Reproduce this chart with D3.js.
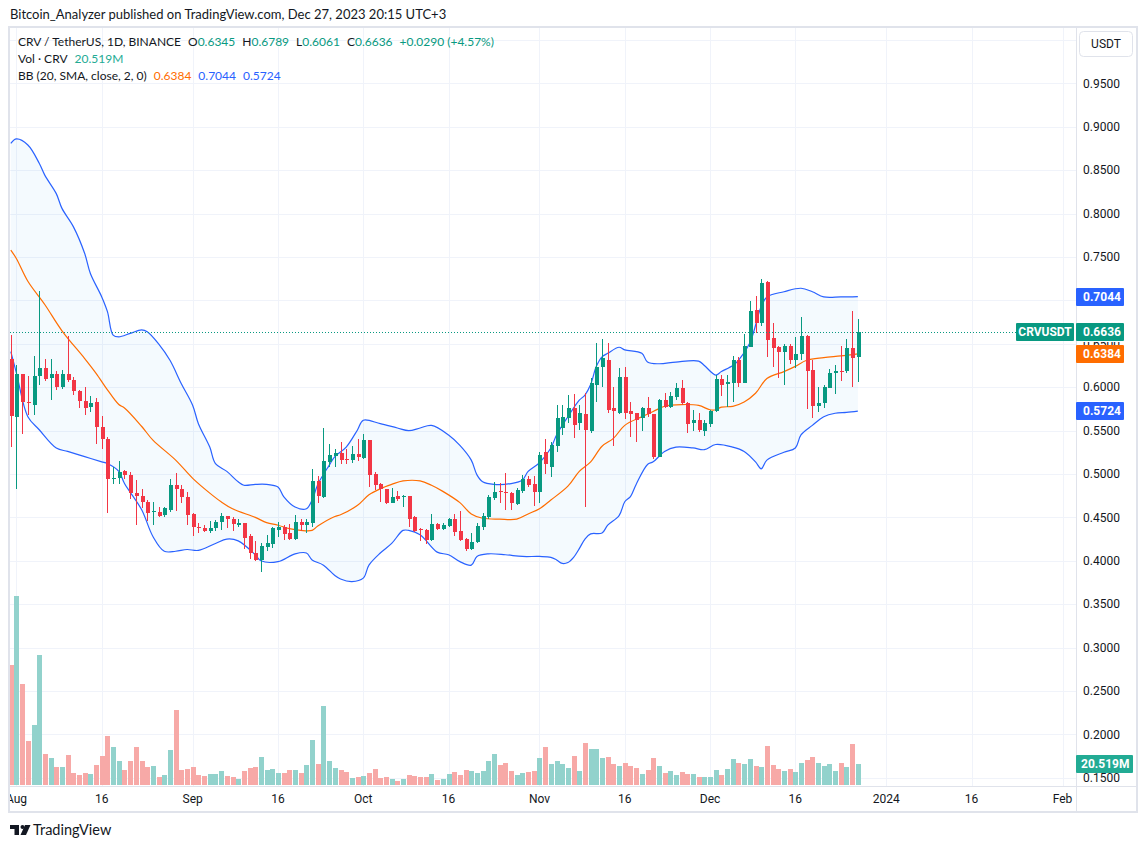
<!DOCTYPE html>
<html>
<head>
<meta charset="utf-8">
<script src="https://cdn.jsdelivr.net/npm/d3@7"></script>
<style>
  html, body { margin: 0; padding: 0; background: #fff; }
  svg { display: block; font-family: Lato, "Noto Sans", sans-serif; }
  .axis text { font-family: Roboto, "Noto Sans", sans-serif; }
</style>
</head>
<body>
<svg id="chart" width="1147" height="848"></svg>
<script>
// CRV / TetherUS daily candles, Jul 31 2023 .. Dec 27 2023
const firstDay = "2023-07-31";

const opens = [
  0.6325,0.5660,0.6148,0.5833,0.5795,0.6129,0.6225,0.6110,0.6152,0.6000,
  0.6152,0.6083,0.5956,0.5845,0.5776,0.5829,0.5545,0.5403,0.4942,0.4958,
  0.5030,0.4988,0.4785,0.4747,0.4681,0.4562,0.4559,0.4528,0.4585,0.4873,
  0.4827,0.4739,0.4539,0.4390,0.4382,0.4347,0.4374,0.4443,0.4520,0.4481,
  0.4412,0.4439,0.4286,0.4086,0.4009,0.4163,0.4194,0.4355,0.4393,0.4316,
  0.4251,0.4443,0.4412,0.4439,0.4919,0.4739,0.5143,0.5207,0.5245,0.5172,
  0.5161,0.5230,0.5180,0.5391,0.4999,0.4884,0.4827,0.4670,0.4746,0.4731,
  0.4746,0.4500,0.4366,0.4355,0.4239,0.4424,0.4366,0.4401,0.4481,0.4343,
  0.4251,0.4136,0.4212,0.4393,0.4508,0.4720,0.4804,0.4796,0.4785,0.4654,
  0.4808,0.4942,0.4884,0.4796,0.5250,0.5084,0.5322,0.5526,0.5641,0.5756,
  0.5584,0.5691,0.5499,0.6025,0.6236,0.6313,0.5756,0.5699,0.6121,0.5729,
  0.5699,0.5641,0.5756,0.5691,0.5200,0.5852,0.5768,0.5883,0.5987,0.5814,
  0.5591,0.5622,0.5499,0.5580,0.5730,0.6090,0.6035,0.6050,0.6313,0.6044,
  0.6467,0.6889,0.6736,0.7216,0.6563,0.6467,0.6409,0.6474,0.6313,0.6378,
  0.6590,0.6198,0.5783,0.5822,0.5987,0.6160,0.6190,0.6190,0.6447,0.6345
];
const highs = [
  0.6600,0.6256,0.6150,0.6130,0.6360,0.7108,0.6325,0.6325,0.6190,0.6198,
  0.6590,0.6120,0.5970,0.6006,0.5900,0.5875,0.5668,0.5432,0.5085,0.5150,
  0.5050,0.5019,0.4931,0.4827,0.4700,0.4674,0.4616,0.4624,0.4942,0.5008,
  0.4873,0.4789,0.4547,0.4439,0.4412,0.4458,0.4470,0.4547,0.4520,0.4508,
  0.4478,0.4439,0.4309,0.4228,0.4201,0.4297,0.4393,0.4451,0.4412,0.4424,
  0.4528,0.4478,0.4478,0.5058,0.4977,0.5534,0.5342,0.5284,0.5365,0.5284,
  0.5322,0.5399,0.5461,0.5395,0.5026,0.4900,0.4827,0.4835,0.4804,0.4758,
  0.4746,0.4516,0.4374,0.4363,0.4539,0.4431,0.4439,0.4489,0.4539,0.4573,
  0.4259,0.4316,0.4431,0.4547,0.4758,0.4911,0.4900,0.5015,0.4796,0.4835,
  0.4988,0.4977,0.4977,0.5257,0.5400,0.5372,0.5795,0.5795,0.5910,0.5921,
  0.5795,0.5929,0.6102,0.6513,0.6555,0.6505,0.6006,0.6217,0.6236,0.5833,
  0.5706,0.5776,0.5883,0.5691,0.5860,0.5937,0.5948,0.6044,0.6083,0.5833,
  0.5737,0.5699,0.5622,0.5737,0.6140,0.6146,0.6140,0.6365,0.6344,0.6613,
  0.6993,0.7050,0.7242,0.7223,0.6735,0.6475,0.6497,0.6497,0.6582,0.6805,
  0.6601,0.6313,0.6006,0.6025,0.6206,0.6256,0.6474,0.6551,0.6881,0.6789
];
const lows = [
  0.5315,0.4827,0.5460,0.5680,0.5680,0.6025,0.6075,0.5853,0.5968,0.5979,
  0.6064,0.5910,0.5764,0.5684,0.5718,0.5346,0.5284,0.4555,0.4885,0.4890,
  0.4940,0.4708,0.4412,0.4605,0.4462,0.4412,0.4501,0.4508,0.4558,0.4574,
  0.4670,0.4412,0.4286,0.4324,0.4332,0.4316,0.4347,0.4355,0.4374,0.4347,
  0.4393,0.4132,0.4017,0.4001,0.3871,0.4117,0.4151,0.4278,0.4240,0.4240,
  0.4240,0.4347,0.4324,0.4393,0.4662,0.4720,0.5085,0.5085,0.5115,0.5111,
  0.5130,0.5153,0.5169,0.4854,0.4815,0.4681,0.4654,0.4662,0.4693,0.4623,
  0.4385,0.4335,0.4232,0.4189,0.4232,0.4355,0.4355,0.4385,0.4285,0.4232,
  0.4117,0.4124,0.4201,0.4355,0.4477,0.4700,0.4662,0.4585,0.4585,0.4643,
  0.4785,0.4846,0.4635,0.4670,0.5000,0.4969,0.5257,0.5449,0.5584,0.5411,
  0.5507,0.4624,0.5476,0.5833,0.6006,0.5706,0.5322,0.5691,0.5630,0.5430,
  0.5372,0.5495,0.5660,0.5169,0.5200,0.5756,0.5756,0.5852,0.5795,0.5468,
  0.5495,0.5488,0.5443,0.5545,0.5715,0.5900,0.5775,0.5833,0.5999,0.6044,
  0.6467,0.6628,0.6705,0.6352,0.6236,0.6102,0.6025,0.6263,0.6217,0.6313,
  0.5745,0.5649,0.5718,0.5756,0.5987,0.5921,0.6075,0.6160,0.6006,0.6061
];
const closes = [
  0.5672,0.6148,0.5833,0.5820,0.6129,0.6225,0.6100,0.6152,0.6000,0.6152,
  0.6083,0.5956,0.5845,0.5764,0.5814,0.5545,0.5403,0.4942,0.4958,0.5027,
  0.4988,0.4785,0.4747,0.4681,0.4547,0.4574,0.4516,0.4605,0.4873,0.4827,
  0.4739,0.4528,0.4385,0.4382,0.4347,0.4382,0.4451,0.4520,0.4478,0.4420,
  0.4431,0.4267,0.4086,0.4009,0.4174,0.4201,0.4374,0.4393,0.4309,0.4251,
  0.4443,0.4412,0.4443,0.4919,0.4747,0.5150,0.5219,0.5245,0.5161,0.5165,
  0.5230,0.5199,0.5391,0.4988,0.4873,0.4823,0.4662,0.4731,0.4708,0.4746,
  0.4481,0.4347,0.4355,0.4239,0.4424,0.4366,0.4412,0.4477,0.4335,0.4239,
  0.4136,0.4212,0.4404,0.4516,0.4731,0.4796,0.4792,0.4777,0.4662,0.4815,
  0.4942,0.4873,0.4796,0.5218,0.5120,0.5334,0.5641,0.5660,0.5756,0.5564,
  0.5699,0.5507,0.6044,0.6236,0.6332,0.5737,0.5726,0.6121,0.5699,0.5691,
  0.5622,0.5756,0.5687,0.5200,0.5852,0.5768,0.5898,0.5987,0.5814,0.5576,
  0.5622,0.5507,0.5591,0.5728,0.6096,0.6025,0.6060,0.6313,0.6044,0.6475,
  0.6878,0.6736,0.7196,0.6544,0.6455,0.6409,0.6474,0.6313,0.6378,0.6590,
  0.6190,0.5783,0.5822,0.6002,0.6167,0.6186,0.6183,0.6447,0.6340,0.6636
];
// volume in millions of CRV
const volumes = [
  117,185,99,43,59,127,30,26,17.6,17.6,
  29,11.7,9.8,11.7,10.7,19.5,28.3,47.9,37.1,23.5,
  14.7,23.5,37.1,23.5,17.6,18.6,7.8,9.8,34.2,73.3,
  14.7,15.6,17.6,9.8,8.8,10.7,10.7,13.7,8.8,7.8,
  5.9,13.7,16.6,17.6,27.4,14.7,15.6,11.7,11.7,14.7,
  14.7,11.7,19.5,44,20.5,77.2,23.5,16.6,14.7,12.7,
  6.8,7.8,8.8,11.7,15.6,6.8,7.8,5.9,3.9,5.9,
  9.8,8.8,7.8,7.8,10.7,4.9,5.9,10.7,12.7,9.8,
  14.7,13.7,11.7,13.7,23.5,30.3,19.5,21.5,13.7,9.8,
  11.7,12.7,13.7,26.4,37.1,20.5,23.5,20.5,16.6,28.3,
  13.7,41.0,35.2,35.2,26.4,27.4,20.5,18.6,21.5,18.6,
  16.6,10.7,14.7,26.4,18.6,11.7,13.7,9.8,12.7,10.7,
  10.7,7.8,7.8,7.8,14.7,9.8,15.6,25.4,21.5,20.5,
  25.4,18.6,17.6,38.1,19.5,15.6,13.7,15.6,12.7,21.5,
  24.4,27.4,21.5,18.6,20.5,13.7,21.5,17.6,40.1,20.519
];

// Bollinger bands: [day offset from firstDay, value]
const bbUpper = [
  [0,0.881],[1,0.886],[3,0.879],[5,0.858],[6,0.844],[8,0.823],[9,0.806],[11,0.785],
  [13,0.754],[14,0.731],[16,0.704],[17,0.687],[18,0.660],[19,0.658],[21,0.662],[23,0.666],
  [24,0.664],[26,0.650],[28,0.631],[30,0.604],[32,0.579],[33,0.558],[35,0.531],[36,0.512],
  [38,0.503],[40,0.491],[41,0.487],[43,0.488],[45,0.488],[47,0.485],[48,0.474],[50,0.462],
  [52,0.460],[53,0.470],[54,0.488],[56,0.510],[57,0.520],[59,0.531],[61,0.551],[62,0.562],
  [65,0.558],[68,0.553],[70,0.550],[72,0.553],[74,0.556],[77,0.545],[79,0.533],[81,0.516],
  [82,0.499],[83,0.491],[85,0.488],[88,0.489],[90,0.493],[91,0.503],[93,0.513],[95,0.530],
  [96,0.545],[98,0.566],[100,0.585],[101,0.591],[102,0.603],[103,0.624],[104,0.635],[105,0.639],
  [107,0.646],[108,0.643],[111,0.639],[112,0.629],[114,0.627],[117,0.629],[121,0.630],[122,0.625],
  [124,0.614],[125,0.618],[127,0.625],[128,0.631],[130,0.651],[132,0.693],[133,0.704],[136,0.710],
  [139,0.714],[141,0.710],[143,0.704],[146,0.704],[149,0.7044]
];
const bbBasis = [
  [0,0.758],[1,0.748],[3,0.722],[6,0.695],[9,0.665],[13,0.633],[15,0.616],[17,0.597],
  [19,0.580],[20,0.576],[23,0.555],[25,0.539],[29,0.516],[32,0.495],[35,0.478],[37,0.468],
  [39,0.460],[43,0.450],[45,0.444],[47,0.441],[49,0.437],[51,0.435],[53,0.435],[54,0.440],
  [57,0.451],[58,0.453],[61,0.464],[63,0.476],[65,0.483],[67,0.488],[69,0.492],[72,0.492],
  [74,0.487],[76,0.480],[79,0.467],[81,0.454],[83,0.449],[86,0.448],[89,0.448],[91,0.454],
  [93,0.460],[95,0.470],[98,0.486],[100,0.503],[102,0.514],[104,0.532],[106,0.541],[108,0.556],
  [111,0.566],[113,0.572],[115,0.578],[118,0.580],[121,0.579],[123,0.574],[124,0.574],[125,0.577],
  [127,0.578],[129,0.583],[131,0.593],[133,0.610],[136,0.618],[138,0.624],[140,0.631],[143,0.634],
  [146,0.636],[149,0.6384]
];
const bbLower = [
  [0,0.641],[1,0.616],[3,0.566],[5,0.551],[8,0.530],[10,0.526],[13,0.520],[16,0.514],
  [17,0.512],[19,0.503],[20,0.489],[23,0.459],[25,0.428],[27,0.411],[29,0.411],[31,0.413],
  [33,0.412],[36,0.420],[38,0.425],[40,0.423],[43,0.407],[44,0.400],[47,0.399],[50,0.408],
  [52,0.409],[53,0.401],[55,0.395],[57,0.383],[58,0.379],[60,0.376],[62,0.380],[63,0.395],
  [65,0.409],[67,0.420],[69,0.435],[70,0.435],[72,0.430],[75,0.410],[77,0.407],[79,0.399],
  [81,0.395],[82,0.405],[84,0.408],[87,0.407],[90,0.405],[93,0.405],[95,0.404],[96,0.401],
  [97,0.397],[98,0.398],[99,0.404],[100,0.414],[101,0.425],[102,0.431],[104,0.432],[105,0.441],
  [107,0.452],[108,0.468],[109,0.474],[110,0.488],[112,0.511],[113,0.514],[115,0.526],[117,0.531],
  [120,0.530],[122,0.528],[124,0.534],[127,0.531],[129,0.526],[131,0.514],[132,0.506],[133,0.516],
  [136,0.525],[138,0.530],[139,0.545],[141,0.556],[143,0.566],[145,0.570],[147,0.571],[149,0.5724]
];

// 0.7000 sits under the upper band label, as on the original
const priceTicks = [0.15,0.20,0.25,0.30,0.35,0.40,0.45,0.50,0.55,0.60,0.65,0.75,0.80,0.85,0.90,0.95];
const gridPrices = [0.15,0.20,0.25,0.30,0.35,0.40,0.45,0.50,0.55,0.60,0.65,0.70,0.75,0.80,0.85,0.90,0.95,1.0];
const dateTicks = ["2023-08-01","2023-08-16","2023-09-01","2023-09-16","2023-10-01","2023-10-16",
  "2023-11-01","2023-11-16","2023-12-01","2023-12-16","2024-01-01","2024-01-16","2024-02-01"];

const last = { o: 0.6345, h: 0.6789, l: 0.6061, c: 0.6636, chg: "+0.0290 (+4.57%)", vol: "20.519M" };
const bbLast = { basis: 0.6384, upper: 0.7044, lower: 0.5724 };

const GREEN = "#089981", RED = "#f23645", BLUE = "#2962ff", ORANGE = "#ff6d00", TEXT = "#131722";

const svg = d3.select("#chart");
const parse = d3.utcParse("%Y-%m-%d");
const start = parse(firstDay);
const dates = d3.range(opens.length).map(i => d3.utcDay.offset(start, i));

const plot = { left: 10, right: 1076, top: 28, bottom: 786 };

const x = d3.scaleUtc()
  .domain([start, d3.utcDay.offset(start, 185)])
  .range([10.8, 1062.5]);
const y = d3.scaleLinear().domain([0.15, 1.0]).range([777.8, 40]);
const yVol = d3.scaleLinear().domain([0, 185]).range([785, 596]);

const defs = svg.append("defs");
defs.append("clipPath").attr("id", "plotClip")
  .append("rect")
  .attr("x", plot.left).attr("y", plot.top)
  .attr("width", plot.right - plot.left).attr("height", plot.bottom - plot.top);

// header
svg.append("text").attr("x", 10).attr("y", 19)
  .attr("font-size", 13).attr("fill", TEXT)
  .text("Bitcoin_Analyzer published on TradingView.com, Dec 27, 2023 20:15 UTC+3");

// grid
const grid = svg.append("g").attr("clip-path", "url(#plotClip)");
grid.selectAll("line.h").data(gridPrices).enter().append("line")
  .attr("x1", plot.left).attr("x2", plot.right)
  .attr("y1", d => Math.round(y(d)) + 0.5).attr("y2", d => Math.round(y(d)) + 0.5)
  .attr("stroke", "#f0f3fa");
grid.selectAll("line.v").data(dateTicks).enter().append("line")
  .attr("x1", d => Math.round(x(parse(d))) + 0.5).attr("x2", d => Math.round(x(parse(d))) + 0.5)
  .attr("y1", plot.top).attr("y2", plot.bottom)
  .attr("stroke", "#f0f3fa");

const g = svg.append("g").attr("clip-path", "url(#plotClip)");

// volume
g.selectAll("rect.vol").data(volumes).enter().append("rect")
  .attr("x", (d, i) => Math.round(x(dates[i])) - 2)
  .attr("width", 5)
  .attr("y", d => yVol(d))
  .attr("height", d => yVol(0) - yVol(d))
  .attr("fill", (d, i) => closes[i] >= opens[i] ? "#92d2cc" : "#f7a9a7")
  .attr("shape-rendering", "crispEdges");

// bollinger bands
const bandLine = d3.line()
  .x(d => x(d3.utcDay.offset(start, d[0])))
  .y(d => y(d[1]))
  .curve(d3.curveCatmullRom.alpha(0.5));

const fillPath = bandLine(bbUpper) + "L" + bandLine(bbLower.slice().reverse()).slice(1);
g.append("path").attr("d", fillPath).attr("fill", "rgba(33,150,243,0.05)");
g.append("path").attr("d", bandLine(bbUpper)).attr("fill", "none").attr("stroke", BLUE).attr("stroke-width", 1.2);
g.append("path").attr("d", bandLine(bbLower)).attr("fill", "none").attr("stroke", BLUE).attr("stroke-width", 1.2);
g.append("path").attr("d", bandLine(bbBasis)).attr("fill", "none").attr("stroke", ORANGE).attr("stroke-width", 1.2);

// candles
const candles = g.selectAll("g.candle").data(opens).enter().append("g")
  .attr("fill", (d, i) => closes[i] >= opens[i] ? GREEN : RED)
  .attr("shape-rendering", "crispEdges");
candles.append("rect")
  .attr("x", (d, i) => Math.round(x(dates[i])))
  .attr("width", 1)
  .attr("y", (d, i) => y(highs[i]))
  .attr("height", (d, i) => y(lows[i]) - y(highs[i]));
candles.append("rect")
  .attr("x", (d, i) => Math.round(x(dates[i])) - 1.5)
  .attr("width", 4)
  .attr("y", (d, i) => y(Math.max(opens[i], closes[i])))
  .attr("height", (d, i) => Math.max(1, Math.abs(y(opens[i]) - y(closes[i]))));

// last price dotted line
g.append("line")
  .attr("x1", plot.left).attr("x2", 1016)
  .attr("y1", Math.round(y(last.c)) + 0.5).attr("y2", Math.round(y(last.c)) + 0.5)
  .attr("stroke", GREEN).attr("stroke-dasharray", "1,2");

// frame and separators
svg.append("rect").attr("x", 9).attr("y", 27).attr("width", 1128).attr("height", 785)
  .attr("fill", "none").attr("stroke", "#e0e3eb").attr("stroke-width", 2);
svg.append("line").attr("x1", 1076.5).attr("x2", 1076.5).attr("y1", 27).attr("y2", 812)
  .attr("stroke", "#e0e3eb");
svg.append("line").attr("x1", 10).attr("x2", 1136).attr("y1", 786.5).attr("y2", 786.5)
  .attr("stroke", "#e0e3eb");

// right price axis; 0.6500 only peeks out between the two labels around it
defs.append("clipPath").attr("id", "tickClip")
  .append("rect").attr("x", 1077).attr("y", 342).attr("width", 60).attr("height", 3);
svg.append("g").attr("class", "axis").selectAll("text").data(priceTicks).enter().append("text")
  .attr("x", 1083).attr("y", d => y(d)).attr("dy", "0.35em")
  .attr("font-size", 12).attr("fill", TEXT)
  .attr("clip-path", d => d === 0.65 ? "url(#tickClip)" : null)
  .text(d => d3.format(".4f")(d));

// USDT box
svg.append("rect").attr("x", 1079.5).attr("y", 31.5).attr("width", 53).attr("height", 25).attr("rx", 4)
  .attr("fill", "#fff").attr("stroke", "#e0e3eb");
svg.append("text").attr("class", "axis").attr("x", 1106).attr("y", 44).attr("dy", "0.35em")
  .attr("text-anchor", "middle").attr("font-size", 12).attr("fill", TEXT)
  .style("font-family", "Roboto, sans-serif").text("USDT");

// bottom time axis
const tickFmt = d => {
  if (d.getUTCDate() !== 1) return d3.utcFormat("%-d")(d);
  return d.getUTCMonth() === 0 ? d3.utcFormat("%Y")(d) : d3.utcFormat("%b")(d);
};
defs.append("clipPath").attr("id", "axisClip")
  .append("rect").attr("x", 10).attr("y", 787).attr("width", 1066).attr("height", 24);
svg.append("g").attr("class", "axis").attr("clip-path", "url(#axisClip)")
  .selectAll("text").data(dateTicks).enter().append("text")
  .attr("x", d => x(parse(d))).attr("y", 799).attr("dy", "0.35em")
  .attr("text-anchor", "middle").attr("font-size", 12).attr("fill", TEXT)
  .text(d => tickFmt(parse(d)));

// axis value labels
const axisLabels = svg.append("g").attr("class", "axis");
function axisLabel(cy, text, color, width, tx) {
  axisLabels.append("rect").attr("x", 1076).attr("y", cy - 9).attr("width", width).attr("height", 18)
    .attr("rx", 1).attr("fill", color);
  axisLabels.append("text").attr("x", tx).attr("y", cy).attr("dy", "0.35em")
    .attr("font-size", 12).attr("font-weight", "bold").attr("fill", "#fff").text(text);
}
axisLabel(Math.round(y(bbLast.upper)), d3.format(".4f")(bbLast.upper), BLUE, 48, 1083);
axisLabel(Math.round(y(bbLast.lower)), d3.format(".4f")(bbLast.lower), BLUE, 48, 1083);
axisLabel(Math.round(y(bbLast.basis)), d3.format(".4f")(bbLast.basis), ORANGE, 48, 1083);
axisLabel(Math.round(y(last.c)), d3.format(".4f")(last.c), GREEN, 48, 1083);
axisLabel(Math.round(yVol(volumes[volumes.length - 1])), last.vol, "#22ab94", 57, 1081);

// symbol label next to the last price
{
  const cy = Math.round(y(last.c));
  axisLabels.append("rect").attr("x", 1016).attr("y", cy - 9).attr("width", 58).attr("height", 18)
    .attr("rx", 1).attr("fill", GREEN);
  axisLabels.append("text").attr("x", 1045).attr("y", cy).attr("dy", "0.35em").attr("text-anchor", "middle")
    .attr("font-size", 12).attr("font-weight", "bold").attr("fill", "#fff").text("CRVUSDT");
}

// legend: each row flows left to right with a small gap
const legend = svg.append("g").attr("font-size", 12);
function legendRow(yPos, parts) {
  let xPos = 18;
  parts.forEach(p => {
    const t = legend.append("text").attr("x", xPos).attr("y", yPos).attr("dy", "0.35em");
    p.forEach(s => t.append("tspan").attr("fill", s[1]).text(s[0]));
    xPos += t.node().getComputedTextLength() + 7;
  });
}
legendRow(42, [
  [["CRV / TetherUS, 1D, BINANCE", TEXT]],
  [["O", TEXT], [d3.format(".4f")(last.o), GREEN]],
  [["H", TEXT], [d3.format(".4f")(last.h), GREEN]],
  [["L", TEXT], [d3.format(".4f")(last.l), GREEN]],
  [["C", TEXT], [d3.format(".4f")(last.c), GREEN]],
  [[last.chg, GREEN]]
]);
legendRow(59, [
  [["Vol \u00b7 CRV", TEXT]],
  [[last.vol, "#22ab94"]]
]);
legendRow(76, [
  [["BB (20, SMA, close, 2, 0)", TEXT]],
  [[d3.format(".4f")(bbLast.basis), ORANGE]],
  [[d3.format(".4f")(bbLast.upper), BLUE]],
  [[d3.format(".4f")(bbLast.lower), BLUE]]
]);

// TradingView mark
const logo = svg.append("g").attr("fill", TEXT);
logo.append("path").attr("d", "M10,825H19V835H14.5V829H10Z");
logo.append("circle").attr("cx", 22.5).attr("cy", 827).attr("r", 2);
logo.append("path").attr("d", "M25,825H30.5L26,835H20.5Z");
svg.append("text").attr("x", 33).attr("y", 830).attr("dy", "0.35em")
  .attr("font-size", 14.5).attr("fill", TEXT).text("TradingView");
</script>
</body>
</html>
